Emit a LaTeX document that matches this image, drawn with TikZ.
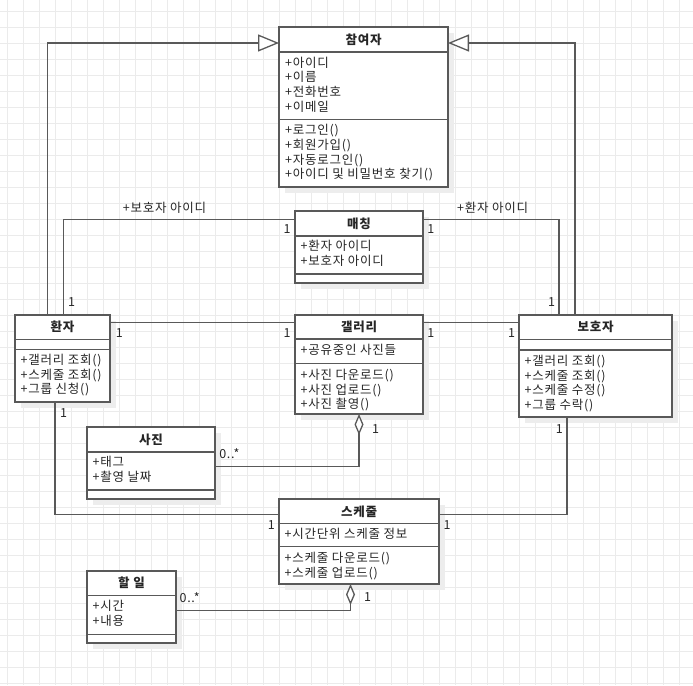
\documentclass[tikz,border=0pt]{standalone}
\usepackage{fontspec}
\setmainfont{Noto Sans CJK KR}[LetterSpace=6]
\usetikzlibrary{arrows.meta,calc,shadows}

\definecolor{gridc}{HTML}{EBEBEB}
\definecolor{edge}{HTML}{595959}
\definecolor{txt}{HTML}{262626}
\definecolor{shade}{HTML}{EDEDED}

\tikzset{
  cls/.style={draw=edge, line width=1.3pt, fill=white, inner sep=0pt, outer sep=0pt,
    anchor=north west,
    drop shadow={shadow xshift=6pt, shadow yshift=-6pt, fill=shade, opacity=1}},
  sep/.style={draw=edge, line width=1.3pt},
  head/.style={font=\bfseries\fontsize{12.5}{14}\selectfont, text=txt, inner sep=0pt},
  mem/.style={anchor=base west, font=\fontsize{12.5}{14}\selectfont, text=txt, inner sep=0pt},
  mult/.style={font=\fontsize{12.5}{14}\selectfont, text=txt, inner sep=0pt},
  assoc/.style={draw=edge, line width=1.3pt},
  inherit/.style={assoc, -{Triangle[fill=white, length=21pt, width=17pt]}},
  aggr/.style={assoc, -{Diamond[fill=white, length=21pt, width=9pt]}},
  gridline/.style={draw=gridc, line width=0.8pt},
}

\begin{document}
\begin{tikzpicture}[x=1pt, y=-1pt]
  % canvas and background grid
  \fill[white] (0,0) rectangle (693,685);
  \useasboundingbox (0,0) rectangle (693,685);
  \foreach \k in {0,...,42} \draw[gridline] ({7.7+16*\k},0) -- ({7.7+16*\k},685);
  \foreach \k in {0,...,42} \draw[gridline] (0,{11.3+16*\k}) -- (693,{11.3+16*\k});

  % ---------- class boxes ----------
  \node[cls, minimum width=169pt, minimum height=160pt] (part)    at (279,27)  {};
  \node[cls, minimum width=128pt, minimum height=72pt]  (match)   at (295,211) {};
  \node[cls, minimum width=95pt,  minimum height=87pt]  (patient) at (15,315)  {};
  \node[cls, minimum width=128pt, minimum height=99pt]  (gallery) at (295,315) {};
  \node[cls, minimum width=153pt, minimum height=102pt] (guard)   at (519,315) {};
  \node[cls, minimum width=128pt, minimum height=72pt]  (photo)   at (87,427)  {};
  \node[cls, minimum width=160pt, minimum height=85pt]  (sched)   at (279,499) {};
  \node[cls, minimum width=89pt,  minimum height=72pt]  (todo)    at (87,571)  {};

  % compartment separators
  \foreach \n/\a/\b in {part/25/92.5, match/25/63, patient/24.5/34.5, gallery/24/48.3,
                        guard/24.5/35, photo/25/63, sched/24.7/47.7, todo/24.7/63.3} {
    \draw[sep] ($(\n.north west)+(0,\a)$) -- ($(\n.north east)+(0,\a)$);
    \draw[sep] ($(\n.north west)+(0,\b)$) -- ($(\n.north east)+(0,\b)$);
  }

  % class names
  \node[head] (part-t)    at ($(part.north)+(0,12.5)$)    {참여자};
  \node[head] (match-t)   at ($(match.north)+(0,12.5)$)   {매칭};
  \node[head] (patient-t) at ($(patient.north)+(0,12)$)   {환자};
  \node[head] (gallery-t) at ($(gallery.north)+(0,12)$)   {갤러리};
  \node[head] (guard-t)   at ($(guard.north)+(0,12)$)     {보호자};
  \node[head] (photo-t)   at ($(photo.north)+(0,12.5)$)   {사진};
  \node[head] (sched-t)   at ($(sched.north)+(0,12.5)$)   {스케줄};
  \node[head] (todo-t)    at ($(todo.north)+(0,12)$)      {할 일};

  % attributes and operations
  \foreach \s [count=\i] in {+아이디,+이름,+전화번호,+이메일}
    \node[mem] (part-a\i) at ($(part.north west)+(6,{40+14.8*(\i-1)})$) {\s};
  \foreach \s [count=\i] in {+로그인(),+회원가입(),+자동로그인(),+아이디 및 비밀번호 찾기()}
    \node[mem] (part-o\i) at ($(part.north west)+(6,{107.5+14.8*(\i-1)})$) {\s};

  \foreach \s [count=\i] in {+환자 아이디,+보호자 아이디}
    \node[mem] (match-a\i) at ($(match.north west)+(5.5,{39.2+15*(\i-1)})$) {\s};

  \foreach \s [count=\i] in {+갤러리 조회(),+스케줄 조회(),+그룹 신청()}
    \node[mem] (patient-o\i) at ($(patient.north west)+(5.5,{49.5+14.7*(\i-1)})$) {\s};

  \node[mem] (gallery-a1) at ($(gallery.north west)+(5.5,39.5)$) {+공유중인 사진들};
  \foreach \s [count=\i] in {+사진 다운로드(),+사진 업로드(),+사진 촬영()}
    \node[mem] (gallery-o\i) at ($(gallery.north west)+(5.5,{64.5+14.7*(\i-1)})$) {\s};

  \foreach \s [count=\i] in {+갤러리 조회(),+스케줄 조회(),+스케줄 수정(),+그룹 수락()}
    \node[mem] (guard-o\i) at ($(guard.north west)+(5.5,{50.5+14.5*(\i-1)})$) {\s};

  \foreach \s [count=\i] in {+태그,+촬영 날짜}
    \node[mem] (photo-a\i) at ($(photo.north west)+(5.5,{39.2+15*(\i-1)})$) {\s};

  \node[mem] (sched-a1) at ($(sched.north west)+(5.5,39.8)$) {+시간단위 스케줄 정보};
  \foreach \s [count=\i] in {+스케줄 다운로드(),+스케줄 업로드()}
    \node[mem] (sched-o\i) at ($(sched.north west)+(5.5,{63.2+15*(\i-1)})$) {\s};

  \foreach \s [count=\i] in {+시간,+내용}
    \node[mem] (todo-a\i) at ($(todo.north west)+(5.5,{39.5+14.7*(\i-1)})$) {\s};

  % ---------- connectors ----------
  % generalisation
  \draw[inherit] ($(patient.north west)+(32.3,0)$) |- ($(part.north west)+(0,16)$);
  \draw[inherit] ($(guard.north west)+(56,0)$) |- ($(part.north east)+(0,16)$);

  % associations
  \draw[assoc] ($(match.north west)+(0,8.3)$) -| ($(patient.north west)+(48.3,0)$);
  \draw[assoc] ($(match.north east)+(0,8.3)$) -| ($(guard.north west)+(40,0)$);
  \draw[assoc] ($(patient.north east)+(0,7.7)$) -- ($(gallery.north west)+(0,7.7)$);
  \draw[assoc] ($(gallery.north east)+(0,7.7)$) -- ($(guard.north west)+(0,7.7)$);
  \draw[assoc] ($(patient.south west)+(40,0)$) |- ($(sched.north west)+(0,15.3)$);
  \draw[assoc] ($(guard.south west)+(48,0)$) |- ($(sched.north east)+(0,15.3)$);

  % aggregations
  \draw[aggr] ($(photo.north east)+(0,39.7)$) -| (gallery.south);
  \draw[aggr] ($(todo.north east)+(0,39.7)$) -| ($(sched.south west)+(71.5,0)$);

  % role names
  \node[mult] (r1) at (164.6,208.3) {+보호자 아이디};
  \node[mult] (r2) at (492.7,208.3) {+환자 아이디};

  % multiplicities
  \node[mult] (m1)  at (287.2,229.3) {1};
  \node[mult] (m2)  at (430.8,229.3) {1};
  \node[mult] (m3)  at (71.6,301.7)  {1};
  \node[mult] (m4)  at (551.5,301.7) {1};
  \node[mult] (m5)  at (119.3,332.7) {1};
  \node[mult] (m6)  at (287.2,332.7) {1};
  \node[mult] (m7)  at (430.8,332.7) {1};
  \node[mult] (m8)  at (511.7,332.7) {1};
  \node[mult] (m9)  at (63.5,413.5)  {1};
  \node[mult] (m10) at (559.4,429.3) {1};
  \node[mult] (m11) at (375.6,429)   {1};
  \node[mult] (m12) at (229.3,453.3) {0..*};
  \node[mult] (m13) at (271.3,525)   {1};
  \node[mult] (m14) at (447.2,525)   {1};
  \node[mult] (m15) at (367.6,597.3) {1};
  \node[mult] (m16) at (189.6,597.3) {0..*};
\end{tikzpicture}
\end{document}
